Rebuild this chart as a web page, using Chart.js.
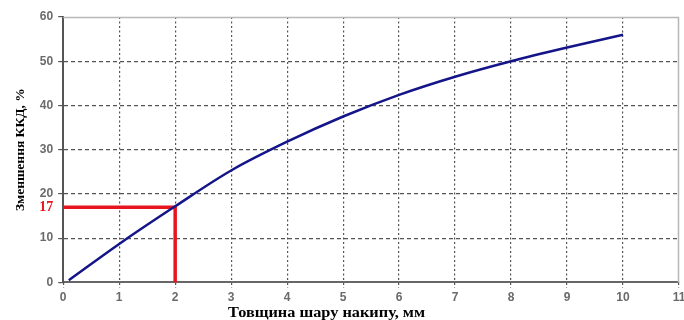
<!DOCTYPE html>
<html>
<head>
<meta charset="utf-8">
<script src="https://cdn.jsdelivr.net/npm/chart.js@4.4.0/dist/chart.umd.min.js"></script>
<style>
  html,body{margin:0;padding:0;background:#fff;}
</style>
</head>
<body>
<canvas id="c" width="684" height="320"></canvas>
<script>
const thickness = [0.1, 1, 2, 3, 4, 5, 6, 7, 8, 9, 10];
const efficiencyLoss = [0.5, 8.7, 17.2, 25.3, 31.8, 37.5, 42.4, 46.5, 50, 53.1, 56];
const markerX = [0, 2, 2];
const markerY = [17, 17, 0];
const markerValue = 17;
const yTickValues = [0, 10, 20, 30, 40, 50, 60];
const xTitle = 'Товщина шару накипу, мм';
const yTitle = 'Зменшення ККД, %';

const isVal = (c, v) => !!(c && c.tick && c.tick.value === v);

const frame = {
  id: 'frame',
  afterDraw(chart) {
    const {ctx, chartArea: a} = chart;
    ctx.save();
    ctx.strokeStyle = '#b8b8b8';
    ctx.lineWidth = 1.5;
    ctx.beginPath();
    ctx.moveTo(a.left, a.top + 0.5);
    ctx.lineTo(a.right - 0.5, a.top + 0.5);
    ctx.lineTo(a.right - 0.5, a.bottom);
    ctx.stroke();
    // x-axis title, stretched like the reference and offset left of centre
    ctx.font = 'bold 14px "Liberation Serif"';
    ctx.fillStyle = '#000';
    ctx.textAlign = 'center';
    ctx.textBaseline = 'middle';
    const w = ctx.measureText(xTitle).width;
    const sx = 197 / w;
    ctx.translate(326.5, 313);
    ctx.scale(sx, 1);
    ctx.fillText(xTitle, 0, 0);
    ctx.restore();
  }
};

new Chart(document.getElementById('c'), {
  type: 'line',
  data: {
    datasets: [
      {
        data: thickness.map((x, i) => ({x, y: efficiencyLoss[i]})),
        borderColor: '#15158a',
        borderWidth: 2.5,
        pointRadius: 0,
        tension: 0.4,
        cubicInterpolationMode: 'monotone',
        order: 1
      },
      {
        data: markerX.map((x, i) => ({x, y: markerY[i]})),
        borderColor: '#e8141e',
        borderWidth: 3.5,
        pointRadius: 0,
        tension: 0,
        order: 2
      }
    ]
  },
  options: {
    responsive: false,
    animation: false,
    devicePixelRatio: 1,
    layout: {padding: {top: 17, right: 0, left: 12, bottom: -2}},
    plugins: {legend: {display: false}, tooltip: {enabled: false}},
    scales: {
      x: {
        type: 'linear',
        min: 0, max: 11,
        afterFit: scale => { scale.paddingRight = 5; },
        ticks: {stepSize: 1, color: '#6a6a6a', font: {family: 'Liberation Sans', weight: 'bold', size: 12}, padding: 3},
        grid: {
          color: c => (isVal(c, 0) || isVal(c, 11)) ? 'rgba(0,0,0,0)' : '#555',
          lineWidth: 1.2,
          tickLength: 5,
          tickColor: '#555',
          tickBorderDash: [2, 2]
        },
        border: {color: '#666', width: 2, dash: [2, 2.5]},
        title: {display: true, text: xTitle, color: 'rgba(0,0,0,0)', font: {family: 'Liberation Serif', weight: 'bold', size: 13.5}, padding: {top: -2, bottom: 0}}
      },
      y: {
        min: 0, max: 60,
        afterBuildTicks: axis => {
          const vals = yTickValues.slice();
          vals.splice(2, 0, markerValue);
          axis.ticks = vals.map(v => ({value: v}));
        },
        ticks: {
          color: c => isVal(c, markerValue) ? '#e8141e' : '#6a6a6a',
          font: c => isVal(c, markerValue)
            ? {family: 'Liberation Serif', weight: 'bold', size: 14}
            : {family: 'Liberation Sans', weight: 'bold', size: 12},
          padding: 5
        },
        grid: {
          color: c => (isVal(c, 0) || isVal(c, 60) || isVal(c, markerValue)) ? 'rgba(0,0,0,0)' : '#555',
          lineWidth: 1.2,
          tickLength: 5,
          tickColor: c => isVal(c, markerValue) ? 'rgba(0,0,0,0)' : '#555'
        },
        border: {color: '#555', width: 2, dash: [4, 3]},
        title: {display: true, text: yTitle, color: '#000', font: {family: 'Liberation Serif', weight: 'bold', size: 13.5}, padding: {top: 0, bottom: 6}}
      }
    }
  },
  plugins: [frame]
});
</script>
</body>
</html>
